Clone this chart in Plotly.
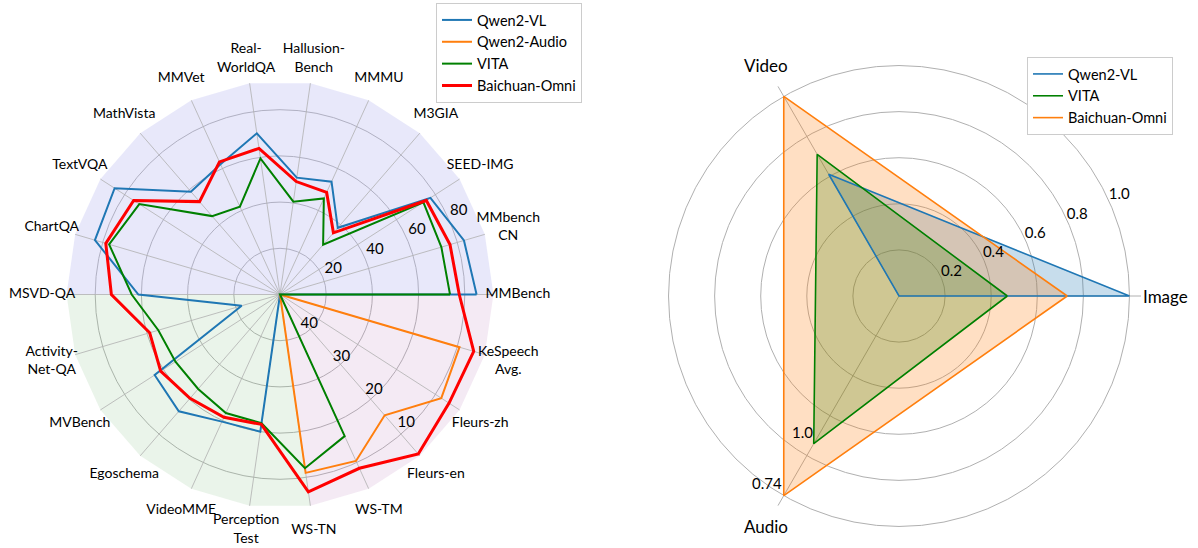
import math
import plotly.graph_objects as go

# ---------------- data: left radar ----------------
categories = ["MMBench", "MMbench<br>CN", "SEED-IMG", "M3GIA", "MMMU", "Hallusion-<br>Bench",
              "Real-<br>WorldQA", "MMVet", "MathVista", "TextVQA", "ChartQA", "MSVD-QA",
              "Activity-<br>Net-QA", "MVBench", "Egoschema", "VideoMME", "Perception<br>Test",
              "WS-TN", "WS-TM", "Fleurs-en", "Fleurs-zh", "KeSpeech<br>Avg."]
# image / video: accuracy (%), audio (last 5): WER (%) ; None = not evaluated
qwen2_vl = [85.1, 83.0, 77.4, 38.2, 53.7, 51.1, 70.5, 62.0, 58.9, 85.1, 83.5,
            61.3, 17.3, 64.5, 66.9, 60.5, 60.0,
            None, None, None, None, None]
qwen2_audio = [None] * 17 + [11.0, 10.4, 15.4, 8.5, 9.5]
vita = [73.6, 72.8, 73.8, 28.5, 45.7, 40.6, 59.5, 41.8, 44.9, 72.4, 77.1,
        64.2, 54.9, 53.8, 54.1, 56.4, 56.3,
        12.0, 16.3, None, None, None]
baichuan_omni = [77.6, 76.7, 75.3, 35.3, 48.6, 49.4, 63.9, 63.1, 53.2, 75.3, 78.6,
                 73.0, 58.8, 61.4, 59.5, 58.4, 56.8,
                 6.85, 8.65, 4.3, 6.5, 6.3]
image_ticks = [20, 40, 60, 80]
audio_ticks = [40, 30, 20, 10]
AUDIO_START = 17
VIDEO_START = 11

# ---------------- data: right radar ----------------
modalities = ["Image", "Video", "Audio"]
r_qwen2_vl = [1.0, 0.61, 0.0]
r_vita = [0.47, 0.71, 0.74]
r_baichuan = [0.73, 1.0, 1.0]
right_ticks = [0.2, 0.4, 0.6, 0.8, 1.0]
audio_notes = ["1.0", "0.74"]
audio_note_r = [0.73, 1.0]

FONT = "Lato"
W, H = 1198, 548
N = len(categories)
angles = [i * 360.0 / N for i in range(N)]
RMAX = 92.4          # extent of spokes / background sectors
RPLOT = 108.0        # plotted radial range (room for category labels)
LABEL_R = 103.0
PX_PER_UNIT = 2.31
CX, CY = 280.0, 294.5

RMAX2 = 1.05
CX2, CY2, R2PX = 899.0, 296.0, 242.0
LABEL_PX2 = 266.0


def wer_to_r(w):
    return (50 - w) * 2


def to_r(vals):
    out = []
    for i, v in enumerate(vals):
        if v is None:
            out.append(0)
        elif i >= AUDIO_START:
            out.append(wer_to_r(v))
        else:
            out.append(v)
    return out


fig = go.Figure()
grid = "#b0b0b0"

# background sectors
sectors = [(0, VIDEO_START, "rgba(178,178,240,0.30)"),
           (VIDEO_START, AUDIO_START, "rgba(150,200,150,0.20)"),
           (AUDIO_START, N, "rgba(200,150,200,0.20)")]
for a, b, col in sectors:
    th = [angles[i] if i < N else 360.0 for i in range(a, b + 1)]
    fig.add_trace(go.Scatterpolar(r=[0] + [RMAX] * len(th) + [0], theta=[0] + th + [0],
                                  mode="lines", fill="toself", fillcolor=col,
                                  line=dict(width=0, color=col), hoverinfo="skip",
                                  showlegend=False, subplot="polar"))

# spokes
sr, st = [], []
for a in angles:
    sr += [0, RMAX, None]
    st += [a, a, None]
fig.add_trace(go.Scatterpolar(r=sr, theta=st, mode="lines", line=dict(color=grid, width=0.8),
                              hoverinfo="skip", showlegend=False, subplot="polar"))

series = [("Qwen2-VL", qwen2_vl, "#1f77b4", 2),
          ("Qwen2-Audio", qwen2_audio, "#ff7f0e", 2),
          ("VITA", vita, "#008000", 2),
          ("Baichuan-Omni", baichuan_omni, "#ff0000", 3)]
for name, vals, col, w in series:
    r = to_r(vals)
    fig.add_trace(go.Scatterpolar(r=r + [r[0]], theta=angles + [angles[0]], mode="lines",
                                  name=name, line=dict(color=col, width=w),
                                  subplot="polar", legend="legend"))

# category labels
fig.add_trace(go.Scatterpolar(r=[LABEL_R] * N, theta=angles, mode="text", text=categories,
                              textposition="middle center", cliponaxis=False,
                              textfont=dict(family=FONT, size=14, color="black"),
                              showlegend=False, hoverinfo="skip", subplot="polar"))
# radial labels (image scale and inverted audio WER scale)
fig.add_trace(go.Scatterpolar(r=[v + 5.4 for v in image_ticks], theta=[25] * len(image_ticks),
                              mode="text", text=[str(v) for v in image_ticks],
                              textfont=dict(family=FONT, size=15, color="black"),
                              showlegend=False, hoverinfo="skip", subplot="polar"))
fig.add_trace(go.Scatterpolar(r=[wer_to_r(v) - 2 for v in audio_ticks], theta=[314.5] * len(audio_ticks),
                              mode="text", text=[str(v) for v in audio_ticks],
                              textfont=dict(family=FONT, size=15, color="black"),
                              showlegend=False, hoverinfo="skip", subplot="polar"))

# ---------------- right radar ----------------
m_angles = [i * 360.0 / len(modalities) for i in range(len(modalities))]
right_series = [("Qwen2-VL", r_qwen2_vl, "#1f77b4", "rgba(31,119,180,0.25)"),
                ("VITA", r_vita, "#008000", "rgba(0,128,0,0.25)"),
                ("Baichuan-Omni", r_baichuan, "#ff7f0e", "rgba(255,127,14,0.25)")]
for name, vals, col, fcol in right_series:
    fig.add_trace(go.Scatterpolar(r=vals + [vals[0]], theta=m_angles + [m_angles[0]],
                                  mode="lines", fill="toself", fillcolor=fcol,
                                  line=dict(width=0, color=fcol), hoverinfo="skip",
                                  showlegend=False, subplot="polar2"))
for name, vals, col, fcol in right_series:
    fig.add_trace(go.Scatterpolar(r=vals + [vals[0]], theta=m_angles + [m_angles[0]],
                                  mode="lines", name=name, line=dict(color=col, width=1.6),
                                  subplot="polar2", legend="legend2"))

fig.add_trace(go.Scatterpolar(r=[v + 0.05 for v in right_ticks], theta=[24.5] * len(right_ticks),
                              mode="text", text=["%.1f" % v for v in right_ticks],
                              textfont=dict(family=FONT, size=15, color="black"),
                              cliponaxis=False,
                              showlegend=False, hoverinfo="skip", subplot="polar2"))
fig.add_trace(go.Scatterpolar(r=audio_note_r, theta=[235, 235], mode="text", text=audio_notes,
                              textfont=dict(family=FONT, size=15, color="black"),
                              cliponaxis=False,
                              showlegend=False, hoverinfo="skip", subplot="polar2"))

# modality labels placed just outside the right radar (matplotlib-like centred labels)
for m, a in zip(modalities, m_angles):
    t = math.radians(a)
    fig.add_annotation(x=(CX2 + LABEL_PX2 * math.cos(t)) / W,
                       y=(H - CY2 + LABEL_PX2 * math.sin(t)) / H,
                       xref="paper", yref="paper", text=m, showarrow=False,
                       xanchor="center", yanchor="middle",
                       font=dict(family=FONT, size=17, color="black"))

R1 = RPLOT * PX_PER_UNIT
fig.update_layout(
    width=W, height=H,
    margin=dict(l=0, r=0, t=0, b=0),
    paper_bgcolor="white",
    font=dict(family=FONT, color="black"),
    polar=dict(
        domain=dict(x=[(CX - R1) / W, (CX + R1) / W], y=[(H - CY - R1) / H, (H - CY + R1) / H]),
        bgcolor="rgba(0,0,0,0)",
        radialaxis=dict(range=[0, RPLOT], tickvals=image_ticks, showticklabels=False, ticks="",
                        showline=False, gridcolor=grid, gridwidth=0.8),
        angularaxis=dict(type="linear", thetaunit="degrees", rotation=0, direction="counterclockwise",
                         showticklabels=False, ticks="", showgrid=False, showline=False),
    ),
    polar2=dict(
        domain=dict(x=[(CX2 - R2PX) / W, (CX2 + R2PX) / W],
                    y=[(H - CY2 - R2PX) / H, (H - CY2 + R2PX) / H]),
        bgcolor="rgba(0,0,0,0)",
        radialaxis=dict(range=[0, RMAX2], tickvals=right_ticks, showticklabels=False, ticks="",
                        showline=False, gridcolor=grid, gridwidth=1),
        angularaxis=dict(type="linear", thetaunit="degrees", rotation=0, direction="counterclockwise",
                         tickmode="array", tickvals=m_angles, showticklabels=False, ticks="",
                         showline=False, gridcolor=grid, gridwidth=1),
    ),
    legend=dict(x=436 / W, y=1 - 3 / H, xanchor="left", yanchor="top",
                bgcolor="white", bordercolor="#cccccc", borderwidth=1,
                font=dict(family=FONT, size=14.5, color="black"), tracegroupgap=0),
    legend2=dict(x=1027 / W, y=1 - 57 / H, xanchor="left", yanchor="top",
                 bgcolor="white", bordercolor="#cccccc", borderwidth=1,
                 font=dict(family=FONT, size=14.5, color="black"), tracegroupgap=0),
)

fig.write_html("out.html", config={"displayModeBar": False},
               post_script="document.body.style.margin='0';document.body.style.padding='0';"
                           "document.documentElement.style.overflow='hidden';")
